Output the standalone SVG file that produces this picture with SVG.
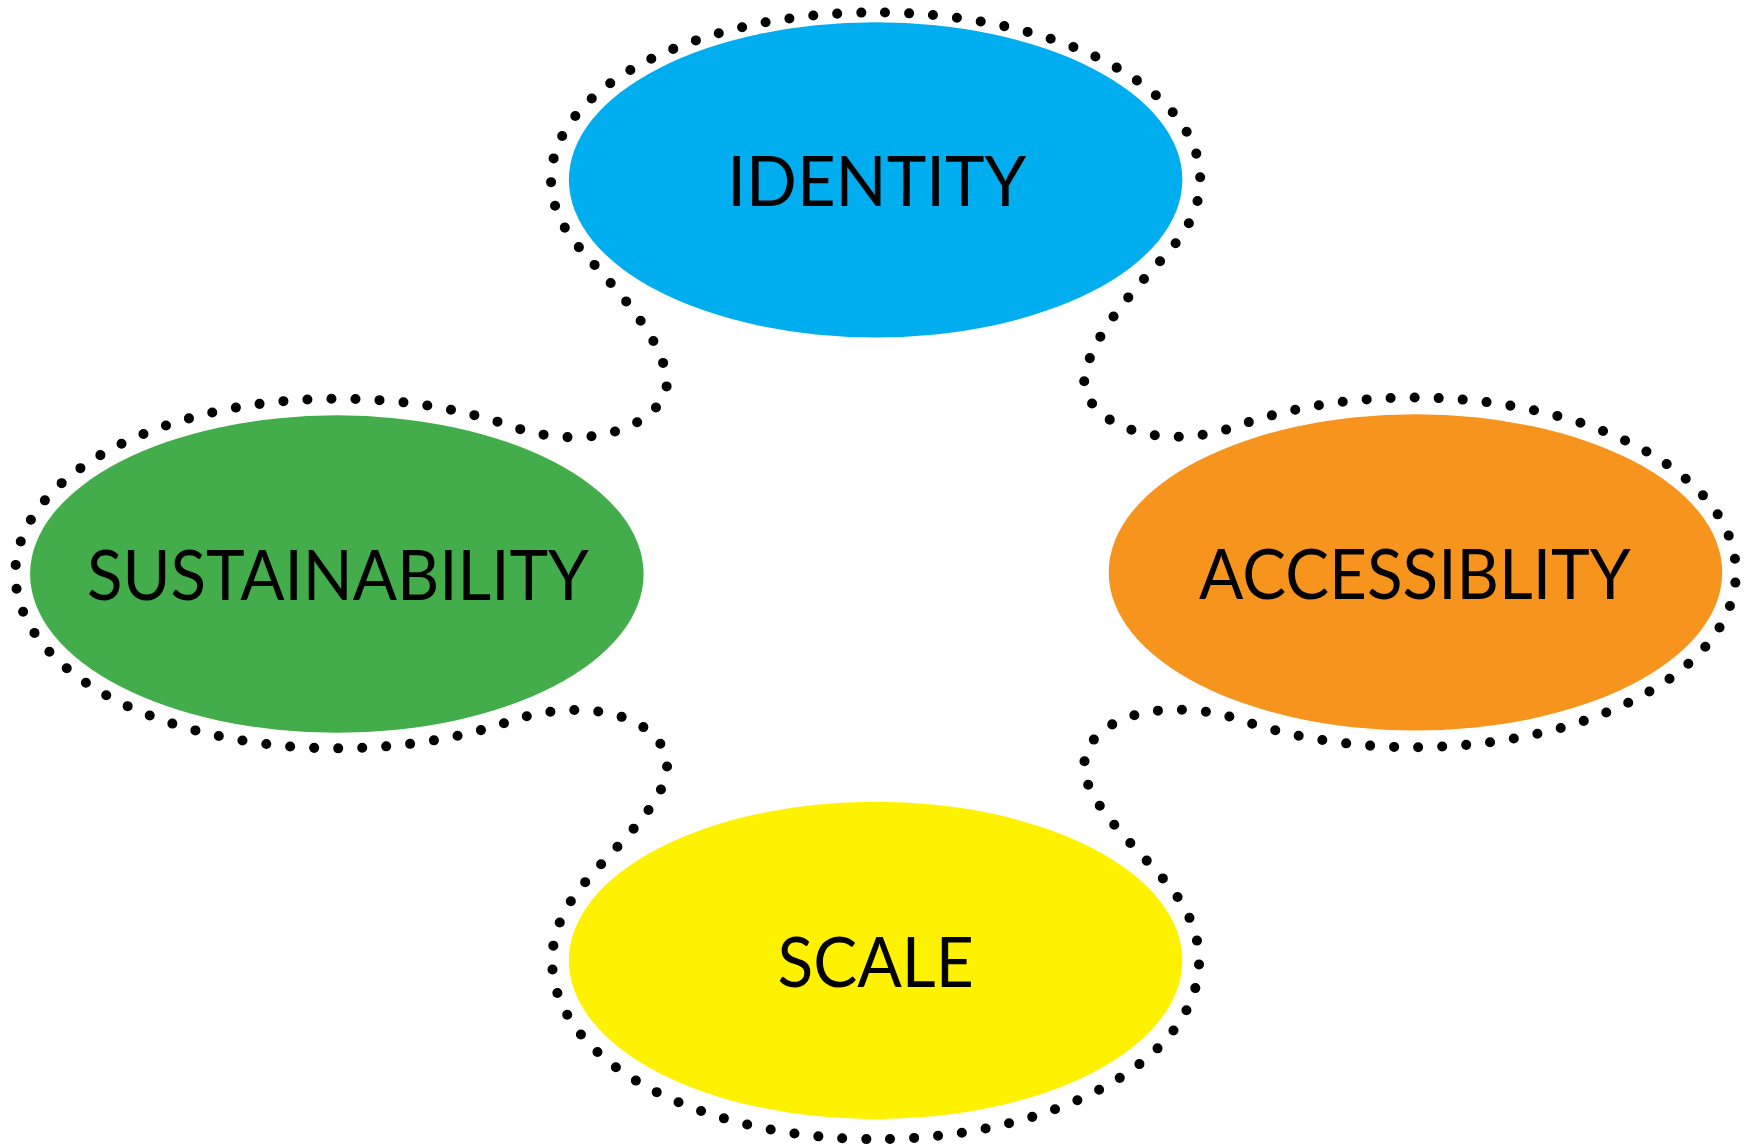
<svg xmlns="http://www.w3.org/2000/svg" width="1749" height="1147" viewBox="0 0 1749 1147">
<style>
.lbl{font-family:Lato,"Open Sans","Liberation Sans",sans-serif;font-size:63px;fill:#000;text-anchor:middle}
.dots{fill:none;stroke:#000;stroke-width:9;stroke-linecap:round;stroke-dasharray:0 1}
</style>
<rect width="1749" height="1147" fill="#fff"/>
<g transform="scale(1.11543 1.11359)">
<g id="outline">
<path class="dots" pathLength="232" d="M 519 222 C 538 245 594 298 598 342 C 598 378 535 408 462 384 A 289 157 0 1 0 462 646 C 535 624 598 648 598 688 C 598 725 536 773 514 806 A 290 160 0 1 0 1056 806 C 1034 773 972 725 972 688 C 972 648 1035 624 1108 645 A 289 157 0 1 0 1108 383 C 1035 408 972 378 972 342 C 976 298 1032 245 1051 222 A 291 150 0 1 0 519 222 Z"/>
</g>
<g id="identity">
<ellipse cx="785" cy="161.5" rx="275" ry="141.5" fill="#00AEEF"/>
<text class="lbl" x="786" y="185" textLength="268" lengthAdjust="spacingAndGlyphs">IDENTITY</text>
</g>
<g id="sustainability">
<ellipse cx="302" cy="515.5" rx="275" ry="142.5" fill="#42AD4A"/>
<text class="lbl" x="303" y="539" textLength="450" lengthAdjust="spacingAndGlyphs">SUSTAINABILITY</text>
</g>
<g id="accessibility">
<ellipse cx="1269" cy="514" rx="275" ry="142" fill="#F7941E"/>
<text class="lbl" x="1268.5" y="538" textLength="387" lengthAdjust="spacingAndGlyphs">ACCESSIBLITY</text>
</g>
<g id="scale">
<ellipse cx="785" cy="862.5" rx="275" ry="142.5" fill="#FFF200"/>
<text class="lbl" x="785" y="886" textLength="176" lengthAdjust="spacingAndGlyphs">SCALE</text>
</g>
</g>
</svg>
